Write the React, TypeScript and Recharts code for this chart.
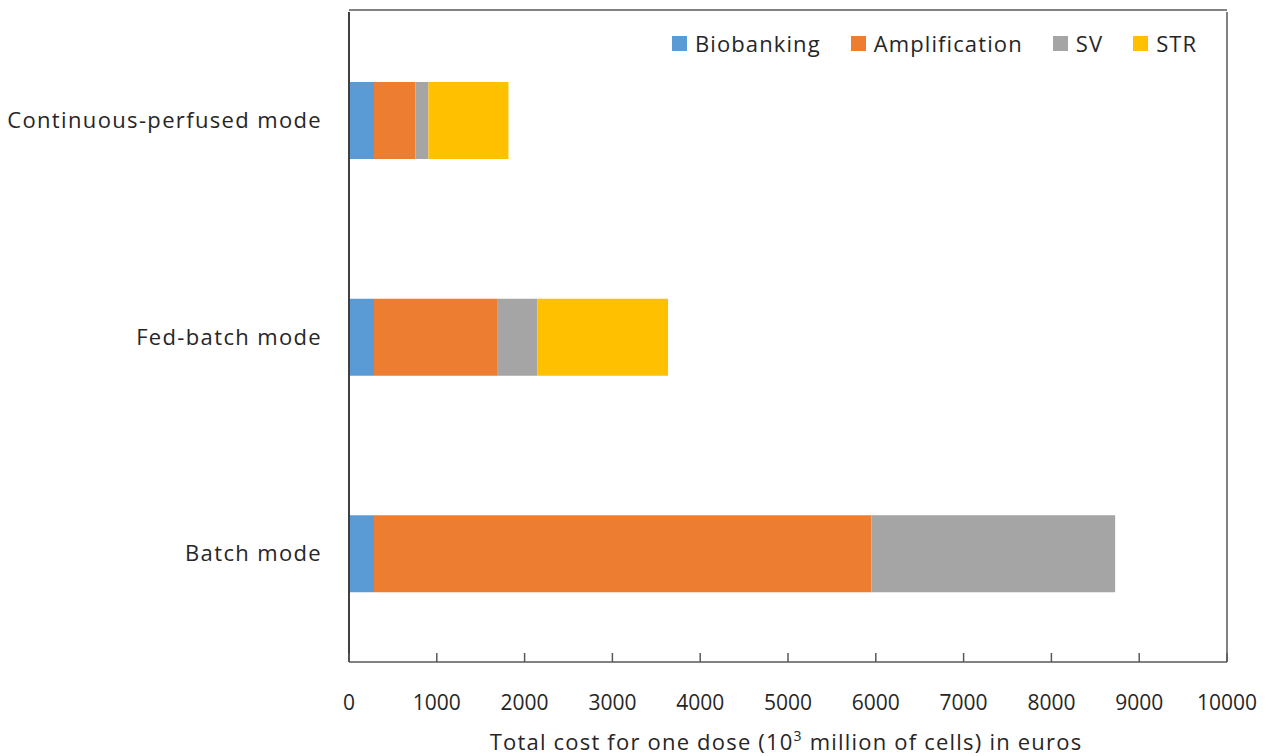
import { BarChart, Bar, XAxis, YAxis, Legend, Label, CartesianGrid } from "recharts";

// production modes (top to bottom)
const modes = ["Continuous-perfused mode", "Fed-batch mode", "Batch mode"];

// cost per stage, euros
const biobanking = [285, 285, 285];
const amplification = [471, 1410, 5664];
const sv = [148, 452, 2777];
const str = [912, 1487, 0];

const xTicks = [0, 1000, 2000, 3000, 4000, 5000, 6000, 7000, 8000, 9000, 10000];

const series = [
    { key: "biobanking", name: "Biobanking", color: "#5B9BD5" },
    { key: "amplification", name: "Amplification", color: "#ED7D31" },
    { key: "sv", name: "SV", color: "#A5A5A5" },
    { key: "str", name: "STR", color: "#FFC000" },
];

const data = modes.map((m, i) => ({
    mode: m,
    biobanking: biobanking[i],
    amplification: amplification[i],
    sv: sv[i],
    str: str[i],
}));

const FONT = "'Open Sans', 'Noto Sans', sans-serif";
const TEXT = "#262626";
const AXIS = "#595959";

function XTick({ x, y, payload }: any) {
    return (
        <g>
            <line x1={x} x2={x} y1={y} y2={y - 9} stroke={AXIS} strokeWidth={1.5} />
            <text x={x} y={y + 48} textAnchor="middle" fill={TEXT} fontSize={21} fontFamily={FONT}>
                {payload.value}
            </text>
        </g>
    );
}

function LegendBox() {
    return (
        <div style={{ display: "flex", alignItems: "center", fontFamily: FONT, fontSize: 22, letterSpacing: 1.1, color: TEXT }}>
            {series.map((s) => (
                <div key={s.key} style={{ display: "flex", alignItems: "center", marginRight: 30 }}>
                    <span style={{ width: 15, height: 15, background: s.color, marginRight: 8, display: "inline-block" }} />
                    <span>{s.name}</span>
                </div>
            ))}
        </div>
    );
}

function AxisTitle({ viewBox }: any) {
    const { x, y, width } = viewBox;
    return (
        <text
            x={x + width / 2 - 2}
            y={y + 88}
            textAnchor="middle"
            fill={TEXT}
            fontSize={22}
            letterSpacing={1.2}
            fontFamily={FONT}
        >
            Total cost for one dose (10
            <tspan dy={-9} fontSize={14}>3</tspan>
            <tspan dy={9}> million of cells) in euros</tspan>
        </text>
    );
}

export default function App() {
    return (
        <div style={{ position: "absolute", left: 0, top: 0, width: 1275, height: 756, background: "#fff" }}>
            <BarChart
                width={1275}
                height={756}
                data={data}
                layout="vertical"
                margin={{ top: 12, right: 48, bottom: 0, left: 0 }}
                barSize={77}
            >
                {/* plot frame: top and right edges */}
                <CartesianGrid
                    stroke={AXIS}
                    strokeWidth={1.5}
                    horizontalCoordinatesGenerator={({ offset }: any) => [offset.top - 2]}
                    verticalCoordinatesGenerator={({ offset }: any) => [offset.left + offset.width]}
                />
                <XAxis
                    type="number"
                    domain={[0, 10000]}
                    ticks={xTicks}
                    height={94}
                    tickLine={false}
                    tickSize={0}
                    tickMargin={0}
                    axisLine={{ stroke: AXIS, strokeWidth: 1.5 }}
                    tick={<XTick />}
                    interval={0}
                >
                    <Label content={<AxisTitle />} />
                </XAxis>
                <YAxis
                    type="category"
                    dataKey="mode"
                    width={349}
                    tickLine={false}
                    tickSize={0}
                    tickMargin={27}
                    axisLine={{ stroke: "#404040", strokeWidth: 2 }}
                    tick={{ fill: TEXT, fontSize: 22, fontFamily: FONT, letterSpacing: 1.35 }}
                />
                <Legend
                    layout="vertical"
                    align="center"
                    verticalAlign="middle"
                    wrapperStyle={{ top: 28, left: 672, width: 590 }}
                    content={<LegendBox />}
                />
                {series.map((s) => (
                    <Bar
                        key={s.key}
                        dataKey={s.key}
                        name={s.name}
                        stackId="cost"
                        fill={s.color}
                        isAnimationActive={false}
                    />
                ))}
            </BarChart>
        </div>
    );
}
